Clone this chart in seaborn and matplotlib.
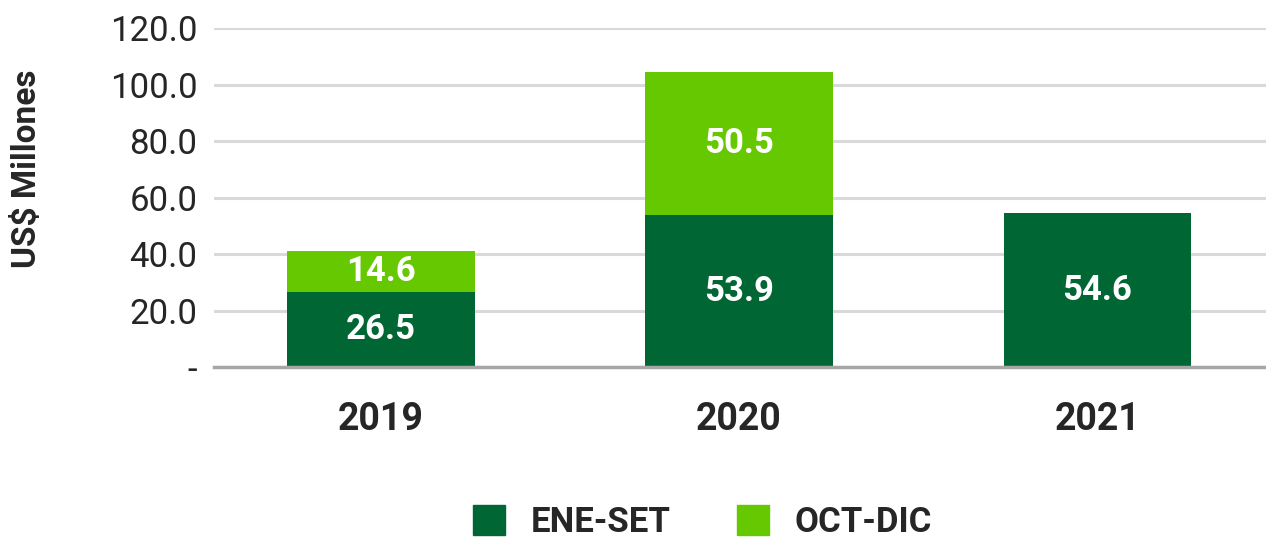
import matplotlib
matplotlib.use("Agg")
import matplotlib.pyplot as plt
import seaborn as sns
import pandas as pd
from matplotlib.patches import Patch

years = ["2019", "2020", "2021"]
ene_set = [26.5, 53.9, 54.6]
oct_dic = [14.6, 50.5, 0.0]
series_names = ["ENE-SET", "OCT-DIC"]
y_ticks = [0, 20, 40, 60, 80, 100, 120]
y_tick_labels = ["-", "20.0", "40.0", "60.0", "80.0", "100.0", "120.0"]

DARK = "#006633"
LIGHT = "#66C800"

sns.set_theme(style="white")
plt.rcParams["font.family"] = ["Roboto", "DejaVu Sans"]

df = pd.DataFrame({"year": years, "ene": ene_set, "oct": oct_dic})
df["total"] = df["ene"] + df["oct"]

fig = plt.figure(figsize=(12.66, 5.40), dpi=100)
ax = fig.add_axes([0.169, 0.320, 0.831, 0.628])

sns.barplot(data=df, x="year", y="total", color=LIGHT, width=0.524,
            saturation=1, ax=ax, zorder=3, linewidth=0, edgecolor="none")
sns.barplot(data=df, x="year", y="ene", color=DARK, width=0.524,
            saturation=1, ax=ax, zorder=4, linewidth=0, edgecolor="none")

# labels
for i, (e, o) in enumerate(zip(ene_set, oct_dic)):
    ax.text(i, e / 2, f"{e:.1f}", ha="center", va="center", color="white",
            fontsize=25, fontweight="bold", zorder=5)
    if o > 0:
        ax.text(i, e + o / 2, f"{o:.1f}", ha="center", va="center",
                color="white", fontsize=25, fontweight="bold", zorder=5)

ax.set_xlim(-0.465, 2.47)
ax.set_ylim(0, 120)
ax.set_yticks(y_ticks)
ax.set_yticklabels(y_tick_labels, fontsize=25)
ax.yaxis.grid(True, color="#d9d9d9", linewidth=2.2, zorder=0)
ax.set_axisbelow(True)
for s in ["top", "right", "left"]:
    ax.spines[s].set_visible(False)
ax.spines["bottom"].set_color("#a6a6a6")
ax.spines["bottom"].set_linewidth(2.5)
ax.spines["bottom"].set_zorder(6)
ax.tick_params(axis="y", length=0, pad=12)
ax.tick_params(axis="x", length=0, pad=24)
for lbl in ax.get_xticklabels():
    lbl.set_fontsize(27)
    lbl.set_fontweight("bold")
ax.set_xlabel("")
ax.set_ylabel("US$ Millones", fontsize=24, fontweight="bold", va="center")
ax.yaxis.set_label_coords(-0.178, 0.584)

handles = [Patch(color=DARK, label=series_names[0]),
           Patch(color=LIGHT, label=series_names[1])]
leg = fig.legend(handles=handles, loc="center", bbox_to_anchor=(0.555, 0.033),
                 ncol=2, frameon=False, handlelength=0.92, handleheight=0.92,
                 handletextpad=0.75, columnspacing=1.9,
                 prop={"size": 25, "weight": "bold"})

fig.savefig("out.png", dpi=100)
